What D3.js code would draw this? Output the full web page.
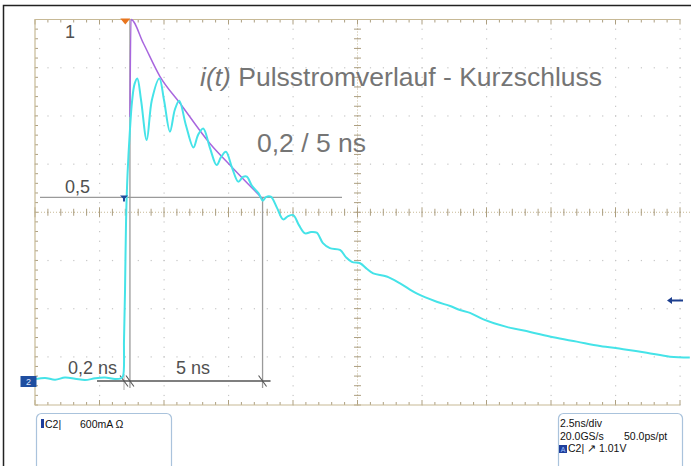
<!DOCTYPE html>
<meta charset="utf-8">
<head>
<title>Pulsstromverlauf</title>
<style>
body { margin: 0; background: #fff; }
svg { display: block; }
text { font-family: "Liberation Sans", Arial, sans-serif; }
</style>
</head>
<body>
<div id="chart"></div>
<script src="https://d3js.org/d3.v7.min.js"></script>
<script>
// waveform C2, time in ns (trigger = 0), current normalised to peak envelope
var timeNs = [-3.46, -3.11, -2.72, -2.34, -1.95, -1.56, -1.17, -0.79, -0.40, -0.17, -0.09, -0.05, -0.01, 0.03, 0.085,
  0.18, 0.26, 0.36, 0.465, 0.61, 0.83, 1.03, 1.32, 1.50, 1.73, 1.92, 2.09, 2.35, 2.64, 2.82, 3.02, 3.28, 3.54,
  3.71, 3.90, 4.14, 4.38, 4.56, 4.71, 4.91, 5.16, 5.33, 5.45, 5.64, 5.88, 6.12, 6.31, 6.51, 6.73, 6.97, 7.20,
  7.42, 7.66, 7.93, 8.32, 8.55, 8.78, 9.10, 9.37, 9.61, 10.13, 10.65, 11.29, 12.07, 12.59, 12.97, 13.36, 13.88,
  14.78, 15.69, 16.59, 17.50, 18.40, 19.30, 20.21, 21.11, 21.88];
var current = [0.000, 0.003, -0.002, 0.004, 0.001, -0.003, 0.002, 0.004, 0.000, 0.002, 0.008, 0.108, 0.248, 0.442, 0.567,
  0.693, 0.771, 0.821, 0.836, 0.776, 0.665, 0.776, 0.836, 0.776, 0.688, 0.749, 0.774, 0.706, 0.644, 0.679, 0.697, 0.643, 0.595,
  0.617, 0.632, 0.587, 0.549, 0.562, 0.563, 0.537, 0.517, 0.496, 0.506, 0.507, 0.476, 0.444, 0.453, 0.456, 0.428, 0.405, 0.409,
  0.407, 0.378, 0.364, 0.359, 0.339, 0.326, 0.322, 0.306, 0.294, 0.285, 0.266, 0.238, 0.215, 0.203, 0.192, 0.184, 0.166,
  0.145, 0.131, 0.116, 0.104, 0.092, 0.083, 0.073, 0.062, 0.060];

// drawn envelope (rise + decay to half value)
var envT = [0.18, 0.22, 0.70, 1.34, 2.12, 3.28, 4.19, 5.30];
var envV = [0.729, 1.000, 0.934, 0.842, 0.767, 0.655, 0.585, 0.503];

var levelLabels = ["1", "0,5"];
var levelValues = [1, 0.5];
var title = "Pulsstromverlauf - Kurzschluss";
var subtitle = "0,2 / 5 ns";
var riseLabel = "0,2 ns", decayLabel = "5 ns";
var riseStart = -0.05, riseEnd = 0.18, halfTime = 5.32;
var infoLeft = ["C2|", "600mA \u03a9"];
var infoRight = ["2.5ns/div", "20.0GS/s", "50.0ps/pt", "C2| \u2197 1.01V"];

var width = 691, height = 466;
var nsPerDiv = 2.5, xDivs = 10, yDivs = 8;

var x = d3.scaleLinear().domain([-3.5, -3.5 + nsPerDiv * xDivs]).range([35, 680]);
var y = d3.scaleLinear().domain([0, 1]).range([379, 19.5]);
var xDiv = d3.scaleLinear().domain([0, xDivs]).range([35, 680]);
var yDiv = d3.scaleLinear().domain([0, yDivs]).range([19.5, 405]);

var svg = d3.select("#chart").append("svg")
  .attr("width", width)
  .attr("height", height);

// outer frame
svg.append("path").attr("d", "M3.5,466V5.5H691")
  .attr("fill", "none").attr("stroke", "#222").attr("stroke-width", 1.5);

var grid = svg.append("g");
var dotColor = "#c6c6c6", tan = "#c7b996", tick = "#ad9f80";

// dotted grid along major lines
for (var i = 1; i <= xDivs; i++) {
  for (var j = 0; j <= yDivs * 5; j++) {
    grid.append("rect").attr("x", xDiv(i) - 0.5).attr("y", yDiv(j / 5) - 0.5)
      .attr("width", 1.2).attr("height", 1.2).attr("fill", dotColor);
  }
}
for (var j = 1; j < yDivs; j++) {
  for (var i = 0; i <= xDivs * 5; i++) {
    grid.append("rect").attr("x", xDiv(i / 5) - 0.5).attr("y", yDiv(j) - 0.5)
      .attr("width", 1.2).attr("height", 1.2).attr("fill", dotColor);
  }
}

// centre axes with minor ticks
var cx = xDiv(xDivs / 2), cy = yDiv(yDivs / 2);
grid.append("line").attr("x1", xDiv(0)).attr("x2", 691).attr("y1", cy).attr("y2", cy)
  .attr("stroke", tan).attr("stroke-dasharray", "1,2");
grid.append("line").attr("x1", cx).attr("x2", cx).attr("y1", yDiv(0)).attr("y2", yDiv(yDivs))
  .attr("stroke", tan).attr("stroke-dasharray", "1,2");
d3.range(0, xDivs * 5 + 1).forEach(function(k) {
  var px = xDiv(k / 5), big = k % 5 === 0 ? 5 : 3.5;
  grid.append("line").attr("x1", px).attr("x2", px).attr("y1", cy - big).attr("y2", cy + big)
    .attr("stroke", tick).attr("stroke-width", 1);
  grid.append("line").attr("x1", px).attr("x2", px).attr("y1", yDiv(0)).attr("y2", yDiv(0) + (k % 5 === 0 ? 5 : 3))
    .attr("stroke", tick);
  grid.append("line").attr("x1", px).attr("x2", px).attr("y1", yDiv(yDivs)).attr("y2", yDiv(yDivs) - (k % 5 === 0 ? 5 : 3))
    .attr("stroke", tick);
});
d3.range(0, yDivs * 5 + 1).forEach(function(k) {
  var py = yDiv(k / 5);
  grid.append("line").attr("x1", cx - 3.5).attr("x2", cx + 3.5).attr("y1", py).attr("y2", py)
    .attr("stroke", tick);
  grid.append("line").attr("x1", xDiv(0)).attr("x2", xDiv(0) + 3).attr("y1", py).attr("y2", py)
    .attr("stroke", tick);
});
// plot border (left, top, bottom)
grid.append("path")
  .attr("d", "M" + xDiv(xDivs) + "," + yDiv(0) + "H" + xDiv(0) + "V" + yDiv(yDivs) + "H" + xDiv(xDivs))
  .attr("fill", "none").attr("stroke", tan).attr("stroke-width", 1.2);

// measurement lines
var meas = svg.append("g").attr("stroke", "#9a9a9a").attr("stroke-width", 1.3).attr("fill", "none");
meas.append("line").attr("x1", 40).attr("x2", 342).attr("y1", y(0.505)).attr("y2", y(0.505));
meas.append("line").attr("x1", x(riseEnd)).attr("x2", x(riseEnd)).attr("y1", y(1)).attr("y2", 388);
meas.append("line").attr("x1", x(halfTime)).attr("x2", x(halfTime)).attr("y1", y(0.505)).attr("y2", 388);
meas.append("line").attr("x1", x(riseStart)).attr("x2", x(riseStart)).attr("y1", 374).attr("y2", 390)
  .attr("stroke-width", 0.8);

var dim = svg.append("g").attr("stroke", "#555").attr("stroke-width", 1.5);
dim.append("line").attr("x1", 97).attr("x2", x(halfTime) + 8).attr("y1", 381).attr("y2", 381);
[riseStart, riseEnd, halfTime].forEach(function(t) {
  dim.append("line").attr("x1", x(t) - 4).attr("x2", x(t) + 4).attr("y1", 375.5).attr("y2", 386.5)
    .attr("stroke-width", 1.1);
});

// envelope
var line = d3.line().x(function(d) { return x(d[0]); }).y(function(d) { return y(d[1]); });
svg.append("path")
  .datum(d3.zip(envT, envV))
  .attr("d", d3.line().x(function(d) { return x(d[0]); }).y(function(d) { return y(d[1]); }).curve(d3.curveMonotoneX))
  .attr("fill", "none").attr("stroke", "#a866de").attr("stroke-width", 1.5);

// waveform
svg.append("path")
  .datum(d3.zip(timeNs, current))
  .attr("d", line.curve(d3.curveCatmullRom.alpha(0.5)))
  .attr("fill", "none").attr("stroke", "#45e3e8").attr("stroke-width", 2);

// markers
svg.append("path").attr("d", "M" + (x(0) - 5) + "," + 18.5 + "h10l-5,6z").attr("fill", "#e8751e");
svg.append("path").attr("d", "M" + (x(riseStart) - 4) + "," + (y(0.505) - 2) + "h8l-3,3v3h-2v-3z").attr("fill", "#1f4a9c");
svg.append("rect").attr("x", 20.5).attr("y", 376).attr("width", 16).attr("height", 11).attr("fill", "#1f4ea0");
svg.append("text").attr("x", 28.5).attr("y", 385).attr("text-anchor", "middle")
  .attr("font-size", 9).attr("fill", "#dfe8ff").text("2");
svg.append("path").attr("d", "M667,300.5l5,-3.5v2.5h11v2h-11v2.5z").attr("fill", "#1d3f8f");

// labels
var lab = svg.append("g").attr("fill", "#505050").attr("font-size", 18);
levelLabels.forEach(function(l, i) {
  lab.append("text").attr("x", 65).attr("y", y(levelValues[i]) + (i === 0 ? 18 : -6)).text(l);
});
lab.append("text").attr("x", 68).attr("y", 374).text(riseLabel);
lab.append("text").attr("x", 176).attr("y", 374).text(decayLabel);

var tt = svg.append("text").attr("x", 200).attr("y", 86).attr("fill", "#757575").attr("font-size", 26.5);
tt.append("tspan").attr("font-style", "italic").text("i(t)");
tt.append("tspan").text(" " + title);
svg.append("text").attr("x", 257).attr("y", 152).attr("fill", "#757575").attr("font-size", 26.5).text(subtitle);

// info boxes
var boxes = svg.append("g").attr("fill", "#fff").attr("stroke", "#aac3dc").attr("stroke-width", 1.2);
boxes.append("rect").attr("x", 36.5).attr("y", 413.5).attr("width", 135).attr("height", 70).attr("rx", 5);
boxes.append("rect").attr("x", 558.5).attr("y", 413.5).attr("width", 124).attr("height", 70).attr("rx", 5);

var info = svg.append("g").attr("font-size", 10.5).attr("fill", "#111");
info.append("rect").attr("x", 41).attr("y", 419).attr("width", 3).attr("height", 9).attr("fill", "#1f3f9c");
info.append("text").attr("x", 45).attr("y", 428).text(infoLeft[0]);
info.append("text").attr("x", 80).attr("y", 428).text(infoLeft[1]);
info.append("text").attr("x", 560).attr("y", 427).text(infoRight[0]);
info.append("text").attr("x", 560).attr("y", 440).text(infoRight[1]);
info.append("text").attr("x", 624).attr("y", 440).text(infoRight[2]);
info.append("rect").attr("x", 559).attr("y", 445).attr("width", 8).attr("height", 8).attr("fill", "#1f3f9c");
info.append("text").attr("x", 563).attr("y", 452).attr("text-anchor", "middle").attr("font-size", 7).attr("fill", "#9fc0ff").text("A");
info.append("text").attr("x", 568).attr("y", 452).text(infoRight[3]);
</script>
</body>
